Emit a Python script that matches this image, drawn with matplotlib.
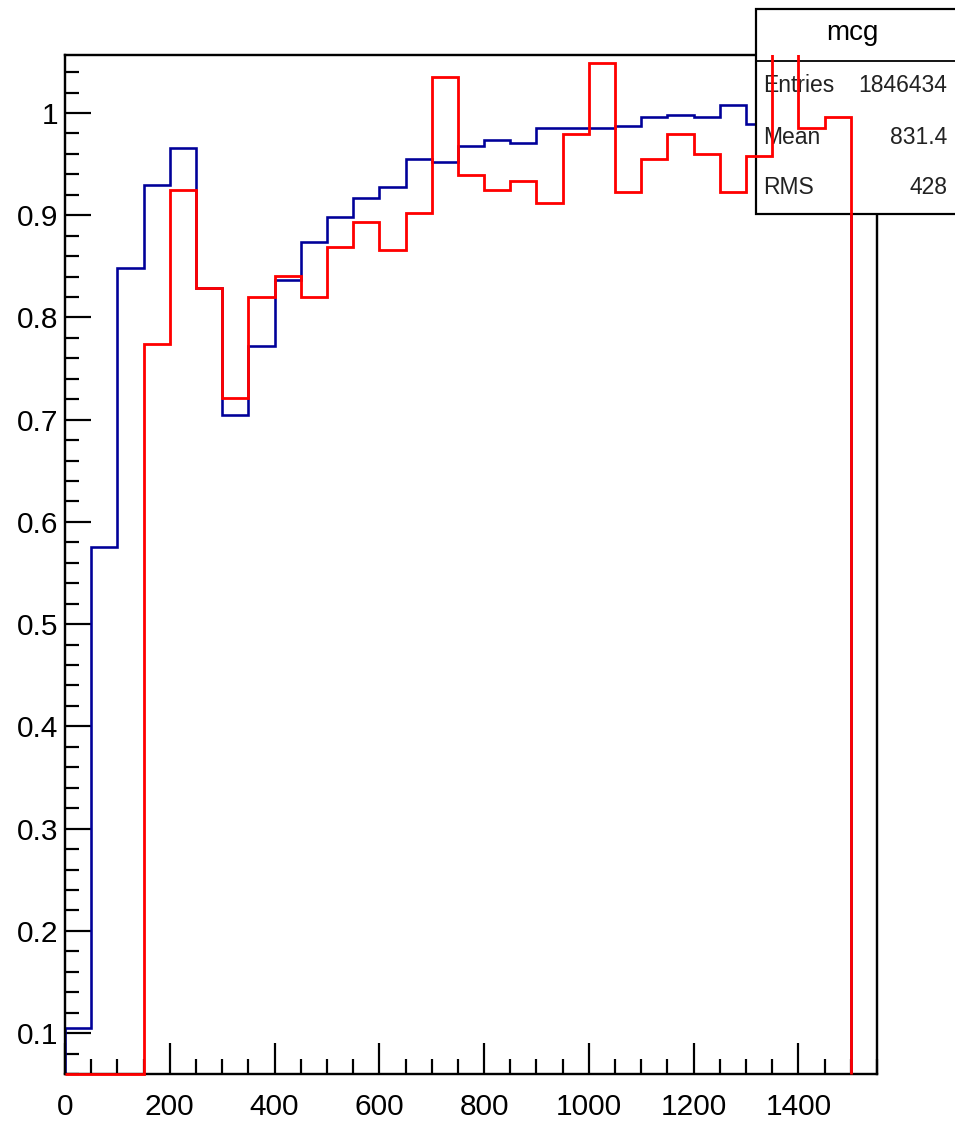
import numpy as np
import matplotlib
matplotlib.use("Agg")
import matplotlib.pyplot as plt
from matplotlib.patches import Rectangle
from matplotlib.lines import Line2D
from matplotlib.ticker import FixedLocator, MultipleLocator

plt.rcParams['font.family'] = ['Liberation Sans', 'DejaVu Sans']

# ---- data ----
bin_edges = np.arange(0, 1550, 50)
blue_values = [0.105, 0.575, 0.848, 0.930, 0.966, 0.829, 0.705, 0.772, 0.837, 0.874,
               0.898, 0.917, 0.928, 0.955, 0.952, 0.968, 0.974, 0.971, 0.985, 0.985,
               0.985, 0.987, 0.996, 0.998, 0.996, 1.008, 0.989, 0.990, 0.995, 0.990]
red_values = [0.0, 0.0, 0.0, 0.774, 0.925, 0.829, 0.721, 0.820, 0.841, 0.820,
              0.869, 0.893, 0.866, 0.902, 1.035, 0.939, 0.925, 0.933, 0.912, 0.979,
              1.049, 0.923, 0.955, 0.979, 0.960, 0.923, 0.958, 1.100, 0.985, 0.996]
x_ticks = [0, 200, 400, 600, 800, 1000, 1200, 1400]
x_tick_labels = ['0', '200', '400', '600', '800', '1000', '1200', '1400']
y_ticks = [0.1, 0.2, 0.3, 0.4, 0.5, 0.6, 0.7, 0.8, 0.9, 1.0]
y_tick_labels = ['0.1', '0.2', '0.3', '0.4', '0.5', '0.6', '0.7', '0.8', '0.9', '1']
stats_title = 'mcg'
stats_names = ['Entries', 'Mean', 'RMS']
stats_vals = ['1846434', '831.4', '428']

XMIN, XMAX = 0, 1550
YMIN, YMAX = 0.06, 1.0567

W, H = 955, 1121
fig = plt.figure(figsize=(W / 100, H / 100), dpi=100)
L, R, T, B = 65, 877, 55, 1074
ax = fig.add_axes([L / W, 1 - B / H, (R - L) / W, (B - T) / H])
ax.set_xlim(XMIN, XMAX)
ax.set_ylim(YMIN, YMAX)

px = 0.72  # points per pixel at dpi 100
blue_c = '#000099'
red_c = '#ff0000'

# clip region: the frame, extended slightly at the bottom so lines lying on
# the lower edge stay fully visible (as ROOT draws them)
clip_rect = Rectangle((0, -0.004), 1, 1.004, transform=ax.transAxes,
                      facecolor='none', edgecolor='none')

blue_draw = np.clip(blue_values, YMIN, None)
red_draw = np.clip(red_values, YMIN, None)
sb = ax.stairs(blue_draw, bin_edges, baseline=YMIN, color=blue_c, lw=2.6 * px, zorder=2)
sr = ax.stairs(red_draw, bin_edges, baseline=YMIN, color=red_c, lw=2.8 * px, zorder=4)
sb.set_clip_path(clip_rect)
sr.set_clip_path(clip_rect)

for s in ax.spines.values():
    s.set_linewidth(2.4 * px)
    s.set_zorder(2.5)

ax.xaxis.set_major_locator(FixedLocator(x_ticks))
ax.set_xticklabels(x_tick_labels)
ax.xaxis.set_minor_locator(MultipleLocator(50))
ax.yaxis.set_major_locator(FixedLocator(y_ticks))
ax.set_yticklabels(y_tick_labels)
ax.yaxis.set_minor_locator(MultipleLocator(0.02))

ax.tick_params(axis='both', which='both', direction='in', width=2.2 * px,
               top=False, right=False, labelsize=21.5)
ax.tick_params(axis='x', which='major', length=31 * px, pad=14)
ax.tick_params(axis='x', which='minor', length=15 * px)
ax.tick_params(axis='y', which='major', length=26 * px, pad=5)
ax.tick_params(axis='y', which='minor', length=14 * px)

# ---- stats box (figure pixel coords) ----
def fx(x):
    return x / W

def fy(y):
    return 1 - y / H

bx0, bx1, by0, by1 = 756, 962, 8.5, 214
box = Rectangle((fx(bx0), fy(by1)), fx(bx1) - fx(bx0), fy(by0) - fy(by1),
                transform=fig.transFigure, facecolor='white', edgecolor='black',
                lw=2.2 * px, zorder=3, clip_on=False)
ax.add_artist(box)
sep = Line2D([fx(bx0), fx(bx1)], [fy(61), fy(61)], transform=fig.transFigure,
             color='black', lw=1.8 * px, zorder=3.1, clip_on=False)
ax.add_artist(sep)

ax.text(fx(852), fy(40), stats_title, transform=fig.transFigure, ha='center',
        va='baseline', fontsize=20, zorder=3.5, clip_on=False)
baselines = [92.5, 144.5, 193.5]
for name, val, yb in zip(stats_names, stats_vals, baselines):
    ax.text(fx(763), fy(yb), name, transform=fig.transFigure, ha='left',
            va='baseline', fontsize=16.5, color='#222222', zorder=3.5, clip_on=False)
    ax.text(fx(947), fy(yb), val, transform=fig.transFigure, ha='right',
            va='baseline', fontsize=16.5, color='#222222', zorder=3.5, clip_on=False)

fig.savefig('out.png', dpi=100)
